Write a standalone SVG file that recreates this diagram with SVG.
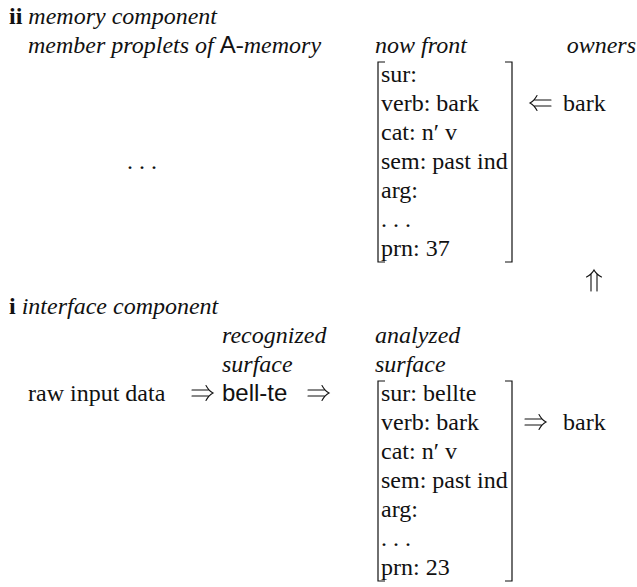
<svg xmlns="http://www.w3.org/2000/svg" width="637" height="587" viewBox="0 0 637 587">
  <style>
    text { font-family: "Liberation Serif", "Times New Roman", serif; font-size: 24px; fill: #111; }
    .it { font-style: italic; }
    .bf { font-weight: bold; }
    .sf { font-family: "Liberation Sans", Arial, sans-serif; font-style: normal; }
    .br { fill: none; stroke: #111; stroke-width: 1.2; }
    .ar { fill: none; stroke: #111; stroke-width: 1.1; stroke-linecap: round; }
  </style>
  <defs>
    <!-- double-shafted arrow pointing right, tip at (0,0) -->
    <g id="dblArrow">
      <path class="ar" d="M-21,-3 H-4 M-21,3 H-4 M-7,-7.5 Q-4,-2 0,0 Q-4,2 -7,7.5"/>
    </g>
  </defs>

  <!-- memory component -->
  <g id="memory-heading">
    <text x="9" y="24"><tspan class="bf">ii</tspan> <tspan class="it">memory component</tspan></text>
    <text x="28" y="53" class="it">member proplets of <tspan class="sf">A</tspan>-memory</text>
    <text x="375" y="53" class="it">now front</text>
    <text x="636" y="53" class="it" text-anchor="end">owners</text>
  </g>

  <g id="member-proplets">
    <text x="127" y="169">. . .</text>
  </g>

  <g id="proplet-37">
    <path class="br" d="M385,62 H378 V262 H385 M505,62 H512 V262 H505"/>
    <text x="381" y="82">sur:</text>
    <text x="381" y="111">verb: bark</text>
    <text x="381" y="140">cat: n′ v</text>
    <text x="381" y="169">sem: past ind</text>
    <text x="381" y="198">arg:</text>
    <text x="381" y="227">. . .</text>
    <text x="381" y="256">prn: 37</text>
  </g>

  <g id="owner-bark">
    <text x="563" y="111">bark</text>
  </g>

  <!-- interface component -->
  <g id="interface-heading">
    <text x="9" y="314"><tspan class="bf">i</tspan>  <tspan class="it">interface component</tspan></text>
    <text x="222" y="343" class="it">recognized</text>
    <text x="222" y="372" class="it">surface</text>
    <text x="375" y="343" class="it">analyzed</text>
    <text x="375" y="372" class="it">surface</text>
  </g>

  <g id="raw-input">
    <text x="28" y="401">raw input data</text>
  </g>

  <g id="recognized-surface">
    <text x="222" y="401" class="sf">bell-te</text>
  </g>

  <g id="proplet-23">
    <path class="br" d="M385,381 H378 V581 H385 M505,381 H512 V581 H505"/>
    <text x="381" y="401">sur: bellte</text>
    <text x="381" y="430">verb: bark</text>
    <text x="381" y="459">cat: n′ v</text>
    <text x="381" y="488">sem: past ind</text>
    <text x="381" y="517">arg:</text>
    <text x="381" y="546">. . .</text>
    <text x="381" y="575">prn: 23</text>
  </g>

  <g id="output-bark">
    <text x="563" y="430">bark</text>
  </g>

  <!-- connectors -->
  <g id="connectors">
    <!-- owner bark to now front proplet -->
    <use href="#dblArrow" transform="translate(530,103) rotate(180)"/>
    <!-- output bark up to owners -->
    <use href="#dblArrow" transform="translate(594,270) rotate(-90)"/>
    <!-- raw input to recognized surface -->
    <use href="#dblArrow" transform="translate(213,393)"/>
    <!-- recognized surface to analyzed proplet -->
    <use href="#dblArrow" transform="translate(329,393)"/>
    <!-- analyzed proplet to output bark -->
    <use href="#dblArrow" transform="translate(546,422)"/>
  </g>
</svg>
